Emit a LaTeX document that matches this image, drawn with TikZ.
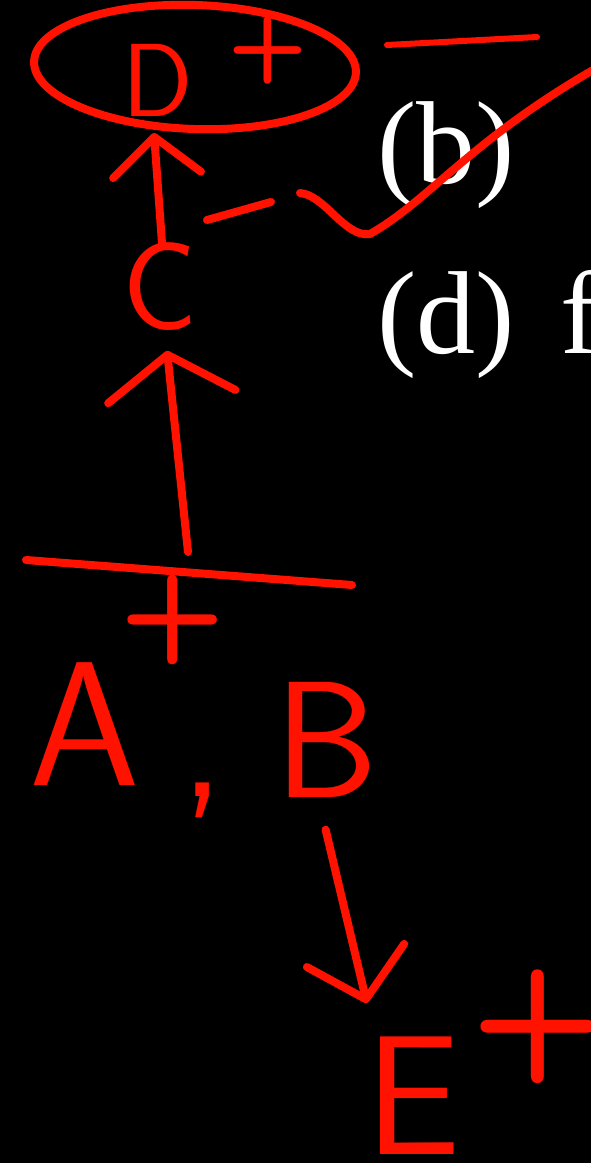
\documentclass[tikz,border=0pt]{standalone}
\usepackage{fontspec}
\usetikzlibrary{shapes.geometric, arrows.meta, positioning}
\newfontfamily\printfont{Liberation Serif}
\definecolor{inkred}{RGB}{255,18,0}

\begin{document}
\begin{tikzpicture}[
    x=1pt, y=-1pt,
    ink/.style={draw=inkred, line width=8pt, line cap=round, line join=round},
    letter/.style={text=inkred, inner sep=0pt, outer sep=0pt, font=\sffamily\fontsize{#1}{#1}\selectfont},
    charge/.style={letter=#1, font=\sffamily\bfseries\fontsize{#1}{#1}\selectfont},
    arrow/.style={ink, -{Straight Barb[round, length=38pt, width=88pt]}},
    printed/.style={text=white, inner sep=0pt, anchor=base west, font=\printfont\fontsize{118}{118}\selectfont}
]
    % page
    \fill[black] (0,0) rectangle (591,1163);
    \useasboundingbox (0,0) rectangle (591,1163);
    \clip (0,0) rectangle (591,1163);

    % printed options
    \node[printed] (optb) at (377,183) {(b)};
    \node[printed] (optd) at (377,353) {(d)\hspace{0.39em}f};

    % top: D+ in a ring
    \node[ink, ellipse, minimum width=322pt, minimum height=124pt, rotate=-2] (ring) at (195,67) {};
    \node[letter=104] (D) at (158,80) {D};
    \node[charge=92] (Dplus) at (268,50) {+};
    \draw[ink, line width=6pt] (387,45) -- (537,37);

    % C and the mark beside it
    \node[letter=125] (C) at (160,287) {C};
    \draw[arrow] ([xshift=2pt]C.north) -- ([xshift=-6pt]C.north |- ring.south);
    \draw[ink] (207,220) -- (271,202);
    \draw[ink] (300,193) .. controls (325,195) and (345,238) .. (370,234)
        .. controls (430,200) and (470,140) .. (600,66);

    % bar with A, B under it
    \coordinate (barL) at (26,560);
    \coordinate (barR) at (352,585);
    \coordinate (stem) at (188,552);
    \draw[ink] (barL) -- (barR);
    \draw[arrow, -{Straight Barb[round, length=42pt, width=128pt]}, shorten >=20pt]
        (stem) -- ([xshift=5pt]C.south);
    \node[charge=122] (ABplus) at (173,620) {+};
    \node[letter=177] (A) at (85,724) {A};
    \node[letter=170] (comma) at (203,800) {,};
    \node[letter=166] (B) at (326,740) {B};

    % B gives E+
    \node[letter=170] (E) at (413,1096) {E};
    \node[charge=155] (Eplus) at (538,1027) {+};
    \draw[arrow, -{Straight Barb[round, length=45pt, width=100pt]}, shorten <=33pt, shorten >=35pt]
        ([xshift=-8pt]B.south) -- ([xshift=-38pt]E.north);
\end{tikzpicture}
\end{document}
